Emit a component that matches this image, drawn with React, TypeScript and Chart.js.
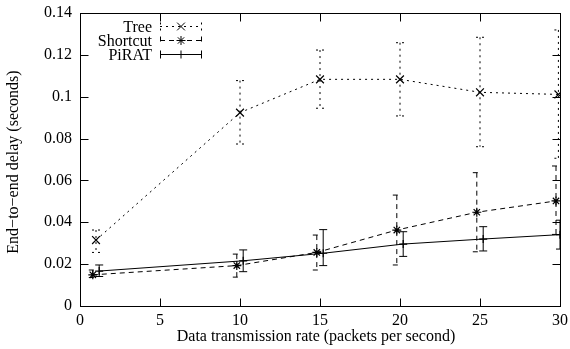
import React, { useEffect, useRef } from 'react';
import { Chart, registerables } from 'chart.js';

Chart.register(...registerables);

// ---- data ----
const seriesLabels = ['Tree', 'Shortcut', 'PiRAT'];

const treeX = [1, 10, 15, 20, 25, 29.9];
const treeY = [0.0315, 0.0924, 0.1083, 0.1083, 0.1021, 0.1011];
const treeLo = [0.0256, 0.0774, 0.0945, 0.0908, 0.0761, 0.0706];
const treeHi = [0.0363, 0.1077, 0.1223, 0.1258, 0.1284, 0.1319];

const shortcutX = [0.8, 9.8, 14.8, 19.8, 24.8, 29.75];
const shortcutY = [0.0149, 0.0193, 0.0256, 0.0363, 0.0448, 0.0502];
const shortcutLo = [0.0136, 0.0138, 0.0172, 0.0196, 0.0259, 0.0342];
const shortcutHi = [0.0172, 0.0248, 0.0339, 0.053, 0.0637, 0.0669];

const piratX = [1.2, 10.2, 15.2, 20.2, 25.2, 30];
const piratY = [0.0167, 0.0216, 0.0252, 0.0296, 0.032, 0.0341];
const piratLo = [0.0141, 0.0164, 0.0193, 0.0237, 0.0263, 0.0272];
const piratHi = [0.0196, 0.0268, 0.0365, 0.0355, 0.0379, 0.041];

const xTickValues = [0, 5, 10, 15, 20, 25, 30];
const xTickLabels = ['0', '5', '10', '15', '20', '25', '30'];
const yTickValues = [0, 0.02, 0.04, 0.06, 0.08, 0.1, 0.12, 0.14];
const yTickLabels = ['0', '0.02', '0.04', '0.06', '0.08', '0.1', '0.12', '0.14'];

const xTitle = 'Data transmission rate (packets per second)';
const yTitle = 'End\u2212to\u2212end delay (seconds)';

const FONT = '"Liberation Serif", "Times New Roman", Times, serif';
const FONT_SIZE = 16;

function drawMarker(ctx: CanvasRenderingContext2D, style: string, r: number, x: number, y: number) {
  ctx.beginPath();
  const d = Math.cos(Math.PI / 4) * r;
  if (style === 'cross' || style === 'star') {
    ctx.moveTo(x - r, y); ctx.lineTo(x + r, y);
    ctx.moveTo(x, y - r); ctx.lineTo(x, y + r);
  }
  if (style === 'crossRot' || style === 'star') {
    ctx.moveTo(x - d, y - d); ctx.lineTo(x + d, y + d);
    ctx.moveTo(x - d, y + d); ctx.lineTo(x + d, y - d);
  }
  ctx.stroke();
}

const errorBarPlugin = {
  id: 'errorBars',
  afterDatasetsDraw(chart: any) {
    const { ctx, chartArea: a, scales: { x, y } } = chart;
    ctx.save();
    ctx.beginPath();
    ctx.rect(a.left - 1, a.top - 1, a.right - a.left + 2, a.bottom - a.top + 2);
    ctx.clip();
    chart.data.datasets.forEach((ds: any) => {
      ctx.strokeStyle = '#000';
      ctx.lineWidth = 1;
      ctx.setLineDash(ds.borderDash || []);
      ds.data.forEach((p: any, i: number) => {
        const px = x.getPixelForValue(p.x);
        const yl = y.getPixelForValue(ds.errLo[i]);
        const yh = y.getPixelForValue(ds.errHi[i]);
        ctx.beginPath();
        ctx.moveTo(px, yh); ctx.lineTo(px, yl);
        ctx.moveTo(px - 4, yh); ctx.lineTo(px + 4, yh);
        ctx.moveTo(px - 4, yl); ctx.lineTo(px + 4, yl);
        ctx.stroke();
      });
    });
    ctx.restore();
  },
};

const framePlugin = {
  id: 'frameTicks',
  afterDraw(chart: any) {
    const { ctx, chartArea: a, scales: { x, y } } = chart;
    ctx.save();
    ctx.strokeStyle = '#000';
    ctx.lineWidth = 1;
    ctx.setLineDash([]);
    ctx.beginPath();
    const L = 8;
    const l = Math.round(a.left) + 0.5, r = Math.round(a.right) + 0.5;
    const t = Math.round(a.top) + 0.5, b = Math.round(a.bottom) + 0.5;
    x.ticks.forEach((tk: any) => {
      const px = Math.round(x.getPixelForValue(tk.value)) + 0.5;
      ctx.moveTo(px, b); ctx.lineTo(px, b - L);
      ctx.moveTo(px, t); ctx.lineTo(px, t + L);
    });
    y.ticks.forEach((tk: any) => {
      const py = Math.round(y.getPixelForValue(tk.value)) + 0.5;
      ctx.moveTo(l, py); ctx.lineTo(l + L, py);
      ctx.moveTo(r, py); ctx.lineTo(r - L, py);
    });
    ctx.stroke();
    ctx.strokeRect(l, t, r - l, b - t);

    ctx.font = `${FONT_SIZE}px ${FONT}`;
    ctx.fillStyle = '#000';

    // axis titles
    ctx.textAlign = 'center';
    ctx.textBaseline = 'middle';
    ctx.fillText(xTitle, 316, 337);
    ctx.save();
    ctx.translate(14, 162);
    ctx.rotate(-Math.PI / 2);
    ctx.fillText(yTitle, 0, 0);
    ctx.restore();

    // legend (gnuplot style: text right-aligned, sample on the right)
    ctx.textAlign = 'right';
    ctx.textBaseline = 'middle';
    chart.data.datasets.forEach((ds: any, i: number) => {
      const ry = Math.round(a.top + 12.5 + i * 14) + 0.5;
      ctx.fillText(ds.label, 152, ry + 1);
      const x0 = 160, x1 = 202;
      ctx.setLineDash(ds.borderDash || []);
      ctx.beginPath();
      ctx.moveTo(x0, ry); ctx.lineTo(x1, ry);
      ctx.moveTo(x0 + 0.5, ry - 4); ctx.lineTo(x0 + 0.5, ry + 4);
      ctx.moveTo(x1 - 0.5, ry - 4); ctx.lineTo(x1 - 0.5, ry + 4);
      ctx.stroke();
      ctx.setLineDash([]);
      drawMarker(ctx, ds.pointStyle, ds.pointRadius, 181, ry);
    });
    ctx.restore();
  },
};

function makeData(xs: number[], ys: number[]) {
  return xs.map((v, i) => ({ x: v, y: ys[i] }));
}

export default function App() {
  const ref = useRef<HTMLCanvasElement | null>(null);
  useEffect(() => {
    if (!ref.current) return;
    Chart.defaults.font.family = FONT;
    Chart.defaults.font.size = FONT_SIZE;
    Chart.defaults.color = '#000';
    const common = {
      showLine: true,
      borderColor: '#000',
      borderWidth: 1,
      pointBorderColor: '#000',
      pointBackgroundColor: 'rgba(0,0,0,0)',
      pointBorderWidth: 1.2,
      tension: 0,
      fill: false,
    };
    const chart = new Chart(ref.current, {
      type: 'scatter',
      data: {
        datasets: [
          {
            ...common,
            label: seriesLabels[0],
            data: makeData(treeX, treeY),
            borderDash: [2, 4],
            pointStyle: 'crossRot',
            pointRadius: 5.5,
            errLo: treeLo,
            errHi: treeHi,
          } as any,
          {
            ...common,
            label: seriesLabels[1],
            data: makeData(shortcutX, shortcutY),
            borderDash: [5, 4],
            pointStyle: 'star',
            pointRadius: 4.5,
            errLo: shortcutLo,
            errHi: shortcutHi,
          } as any,
          {
            ...common,
            label: seriesLabels[2],
            data: makeData(piratX, piratY),
            borderDash: [],
            pointStyle: 'cross',
            pointRadius: 4,
            errLo: piratLo,
            errHi: piratHi,
          } as any,
        ],
      },
      options: {
        animation: false,
        responsive: false,
        maintainAspectRatio: false,
        layout: { padding: { top: 13, right: 10, left: 0, bottom: 0 } },
        plugins: {
          legend: { display: false },
          tooltip: { enabled: false },
        },
        scales: {
          x: {
            type: 'linear',
            min: 0,
            max: 30,
            grid: { display: false, drawTicks: false },
            border: { display: false },
            afterBuildTicks: (s: any) => { s.ticks = xTickValues.map((v) => ({ value: v })); },
            ticks: {
              padding: 5,
              maxRotation: 0,
              autoSkip: false,
              callback: (_v: any, i: number) => xTickLabels[i],
            },
            title: { display: false },
            afterFit: (s: any) => { s.height = 43; s.paddingLeft = 0; s.paddingRight = 0; },
          },
          y: {
            type: 'linear',
            min: 0,
            max: 0.14,
            grid: { display: false, drawTicks: false },
            border: { display: false },
            afterBuildTicks: (s: any) => { s.ticks = yTickValues.map((v) => ({ value: v })); },
            ticks: {
              padding: 8,
              autoSkip: false,
              callback: (_v: any, i: number) => yTickLabels[i],
            },
            title: { display: false },
            afterFit: (s: any) => { s.width = 80; s.paddingTop = 0; s.paddingBottom = 0; },
          },
        },
      } as any,
      plugins: [errorBarPlugin, framePlugin],
    });
    return () => chart.destroy();
  }, []);
  return (
    <div style={{ position: 'absolute', left: 0, top: 0, width: 570, height: 349, background: '#fff' }}>
      <canvas ref={ref} width={570} height={349} style={{ display: 'block' }} />
    </div>
  );
}
